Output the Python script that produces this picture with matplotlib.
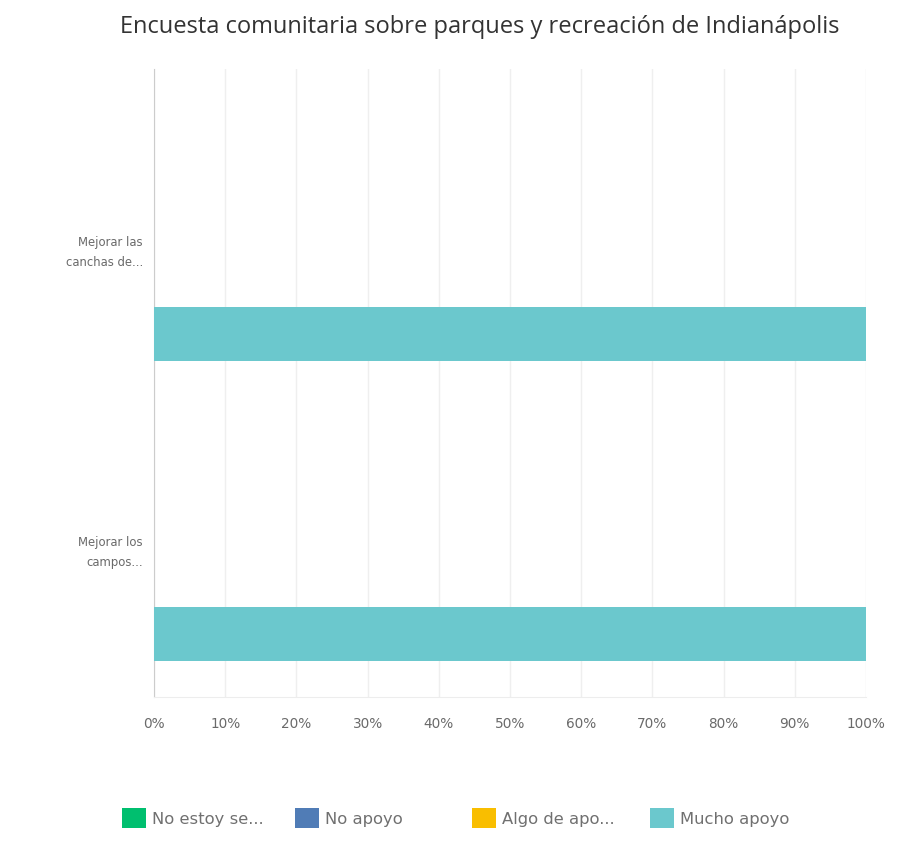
import numpy as np
import matplotlib.pyplot as plt
from matplotlib.patches import Patch

categories = ["Mejorar las\ncanchas de...", "Mejorar los\ncampos..."]
series_names = ["No estoy se...", "No apoyo", "Algo de apo...", "Mucho apoyo"]
series_values = [
    [0, 0],
    [0, 0],
    [0, 0],
    [100, 100],
]
colors = ["#00BF6F", "#507CB6", "#F9BE00", "#6BC8CD"]
tick_values = [0, 10, 20, 30, 40, 50, 60, 70, 80, 90, 100]

plt.rcParams['font.family'] = ['DejaVu Sans']

fig = plt.figure(figsize=(8.99, 8.45), dpi=100)
ax = fig.add_axes([0.1713, 0.174, 0.792, 0.743])

y = np.arange(len(categories))
h = 0.18
step = 0.196
for i, (name, vals) in enumerate(zip(series_names, series_values)):
    ax.barh(y + (i - 1.5) * step, vals, height=h, color=colors[i],
            linewidth=0, label=name, zorder=3)

ax.set_xlim(0, 100)
ax.set_ylim(1.503, -0.59)
ax.set_xticks(tick_values)
ax.set_xticklabels([f"{v}%" for v in tick_values], fontsize=9.8)
ax.set_yticks(y)
ax.set_yticklabels(categories, ha='right', multialignment='right',
                   fontsize=8.4, linespacing=1.75)
ax.tick_params(axis='both', length=0, labelcolor='#6a6a6a')
ax.tick_params(axis='x', pad=14)
ax.tick_params(axis='y', pad=8)
ax.grid(True, axis='x', color='#EFEFEF', linewidth=1, zorder=0)
for s in ['top', 'right']:
    ax.spines[s].set_visible(False)
ax.spines['left'].set_color('#CCCCCC')
ax.spines['bottom'].set_color('#EDEDED')

fig.text(0.534, 0.968, "Encuesta comunitaria sobre parques y recreación de Indianápolis",
         ha='center', va='center', fontsize=17, color='#333333',
         family=['Open Sans', 'DejaVu Sans'])

legend_x = [0.1357, 0.3281, 0.525, 0.723]
for i, name in enumerate(series_names):
    fig.legend(handles=[Patch(facecolor=colors[i], edgecolor='none')], labels=[name],
               loc='center left', bbox_to_anchor=(legend_x[i], 0.0308), frameon=False,
               borderaxespad=0, borderpad=0,
               handlelength=1.45, handleheight=1.45, handletextpad=0.4,
               fontsize=11.8, labelcolor='#707070')

fig.savefig("out.png", dpi=100)
